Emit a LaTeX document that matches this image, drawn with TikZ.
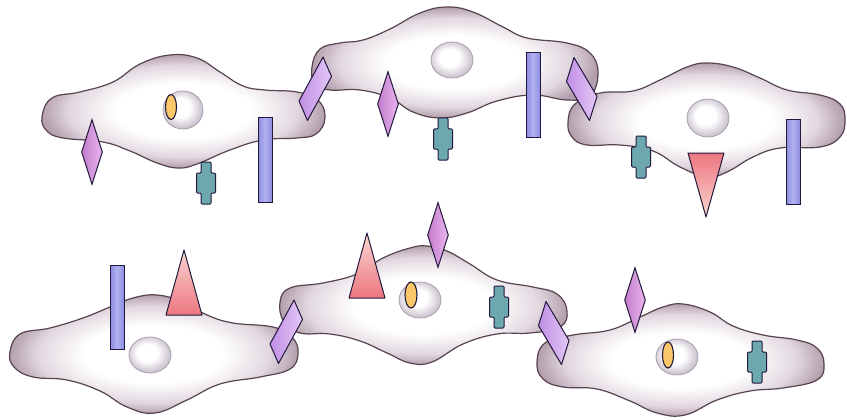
\documentclass[tikz,border=0pt]{standalone}
\usetikzlibrary{shapes.geometric, positioning}
\definecolor{CellLine}{RGB}{88, 68, 80}
\definecolor{CellRim}{RGB}{178, 158, 172}
\definecolor{CellMid}{RGB}{226, 216, 224}
\definecolor{NucLine}{RGB}{160, 152, 166}
\definecolor{NucRim}{RGB}{206, 198, 210}
\definecolor{Yolk}{RGB}{250, 200, 105}
\definecolor{SpikeL}{RGB}{196, 122, 202}
\definecolor{SpikeR}{RGB}{232, 184, 238}
\definecolor{RodBlue}{RGB}{140, 140, 226}
\definecolor{RodLight}{RGB}{178, 178, 242}
\definecolor{LinkPurple}{RGB}{192, 142, 228}
\definecolor{LinkLight}{RGB}{228, 200, 246}
\definecolor{KnobTeal}{RGB}{108, 168, 174}
\definecolor{ConeDark}{RGB}{236, 118, 128}
\definecolor{ConeLight}{RGB}{250, 214, 208}
\definecolor{Ink}{RGB}{34, 24, 60}

\pgfdeclareradialshading{cellshade}{\pgfpoint{0bp}{0bp}}{color(0bp)=(white); color(12bp)=(white); color(20bp)=(CellMid); color(25bp)=(CellRim); color(50bp)=(CellRim)}
\pgfdeclareradialshading{nucshade}{\pgfpoint{-4bp}{4bp}}{color(0bp)=(white); color(12bp)=(white); color(25bp)=(NucRim); color(50bp)=(NucRim)}

% teal receptor, drawn round a centre point
\newcommand{\plug}[2]{\draw[knob] (#1,#2) ++(-5,-21) -- ++(10,0) -- ++(0,11) -- ++(4.5,0) -- ++(0,20) -- ++(-4.5,0) -- ++(0,11) -- ++(-10,0) -- ++(0,-11) -- ++(-4.5,0) -- ++(0,-20) -- ++(4.5,0) -- cycle;}
% slanted junctions: rising to the right, and falling to the right
\newcommand{\linkup}[2]{\draw[link] (#1,#2) ++(8,-32) -- ++(8.5,19.5) -- ++(-24,44) -- ++(-8.5,-19.5) -- cycle;}
\newcommand{\linkdown}[2]{\draw[link] (#1,#2) ++(-8,-31.5) -- ++(23,39) -- ++(-7.5,24) -- ++(-23,-39) -- cycle;}

\begin{document}
\begin{tikzpicture}[x=1pt, y=-1pt,
	cellbody/.style={draw=CellLine, line width=1.2pt, shading=cellshade},
	nucleus/.style={draw=NucLine, line width=0.7pt, shading=nucshade},
	nucleolus/.style={draw=Ink, line width=1.1pt, fill=Yolk},
	spike/.style={diamond, draw=Ink, line width=1pt, left color=SpikeL, right color=SpikeR, minimum width=21pt, minimum height=65pt, inner sep=0pt},
	rod/.style={rectangle, draw=Ink, line width=1pt, left color=RodBlue, right color=RodBlue, middle color=RodLight, minimum width=14pt, minimum height=84pt, inner sep=0pt},
	link/.style={draw=Ink, line width=1pt, line join=round, left color=LinkPurple, right color=LinkLight},
	knob/.style={draw=Ink, line width=1pt, fill=KnobTeal, rounded corners=1pt},
	cone/.style={draw=Ink, line width=1pt, line join=round}]
		\useasboundingbox (0,0) rectangle (847,420);

		% top row of cells
		\draw[cellbody] plot[smooth cycle, tension=0.7] coordinates {(42,117) (52,98) (80,92) (113,82) (140,64) (170,55) (197,58) (220,72) (243,86) (265,90) (297,92) (318,100) (325,118) (316,134) (297,138) (263,140) (230,150) (197,164) (178,168) (157,163) (130,151) (103,142) (63,138) (47,131)};
		\draw[nucleus] (183,110) ellipse [x radius=20, y radius=19];
		\draw[nucleolus] (171,107) ellipse [x radius=5.5, y radius=12.5];

		\draw[cellbody] plot[smooth cycle, tension=0.7] coordinates {(312,67) (320,49) (340,43) (363,40) (390,29) (420,13) (447,7) (473,12) (503,27) (527,38) (567,43) (590,53) (598,73) (590,96) (567,100) (533,95) (497,101) (467,113) (440,118) (413,112) (390,98) (360,90) (330,90) (315,84)};
		\draw[nucleus] (452,60) ellipse [x radius=21, y radius=18];

		\draw[cellbody] plot[smooth cycle, tension=0.7] coordinates {(568,122) (575,104) (600,93) (633,91) (660,80) (687,67) (707,63) (733,67) (760,78) (787,90) (820,95) (840,104) (845,120) (840,137) (820,147) (780,148) (753,157) (727,172) (707,177) (680,167) (653,151) (620,145) (587,145) (572,137)};
		\draw[nucleus] (708,118) ellipse [x radius=21, y radius=19];

		% bottom row of cells
		\draw[cellbody] plot[smooth cycle, tension=0.7] coordinates {(10,352) (20,334) (50,328) (83,318) (110,307) (133,298) (157,295) (183,302) (207,315) (233,323) (273,327) (292,337) (298,353) (290,369) (260,377) (220,384) (187,400) (155,413) (127,407) (100,391) (67,380) (33,377) (14,367)};
		\draw[nucleus] (150,355) ellipse [x radius=21, y radius=18];

		\draw[cellbody] plot[smooth cycle, tension=0.7] coordinates {(280,302) (290,288) (323,283) (357,274) (383,258) (410,248) (427,246) (447,251) (470,264) (497,280) (533,287) (557,294) (567,311) (560,327) (530,333) (497,334) (463,344) (432,362) (410,363) (387,353) (360,341) (330,334) (300,333) (284,322)};
		\draw[nucleus] (420,300) ellipse [x radius=21, y radius=18];
		\draw[nucleolus] (411,295) ellipse [x radius=6, y radius=13];

		\draw[cellbody] plot[smooth cycle, tension=0.7] coordinates {(537,362) (545,343) (573,335) (610,330) (640,317) (663,307) (683,304) (710,312) (733,326) (763,335) (797,340) (817,348) (824,364) (817,380) (783,388) (750,391) (717,400) (685,415) (657,413) (630,401) (597,389) (563,387) (543,379)};
		\draw[nucleus] (677,357) ellipse [x radius=21, y radius=18];
		\draw[nucleolus] (668,355) ellipse [x radius=5.5, y radius=13];

		% junctions between neighbours
		\linkup{315}{89}
		\linkdown{582}{89}
		\linkup{286}{332}
		\linkdown{554}{333}

		% surface markers
		\node[spike] (spikeA) at (92,152) {};
		\node[spike] (spikeB) at (388,104) {};
		\node[spike] (spikeE) at (438,235) {};
		\node[spike] (spikeF) at (635,300) {};

		\node[rod] (rodA) at (265,160) {};
		\node[rod] (rodB) at (533,95) {};
		\node[rod] (rodC) at (793,162) {};
		\node[rod] (rodD) at (117,307) {};

		\plug{206}{183}
		\plug{443}{139}
		\plug{641}{157}
		\plug{499}{307}
		\plug{757}{362}

		\draw[cone, top color=ConeDark, bottom color=ConeLight] (688,153) -- (724,153) -- (706,217) -- cycle;
		\draw[cone, top color=ConeLight, bottom color=ConeDark] (184,250) -- (202,315) -- (166,315) -- cycle;
		\draw[cone, top color=ConeLight, bottom color=ConeDark] (367,233) -- (385,298) -- (349,298) -- cycle;
	\end{tikzpicture}
\end{document}
